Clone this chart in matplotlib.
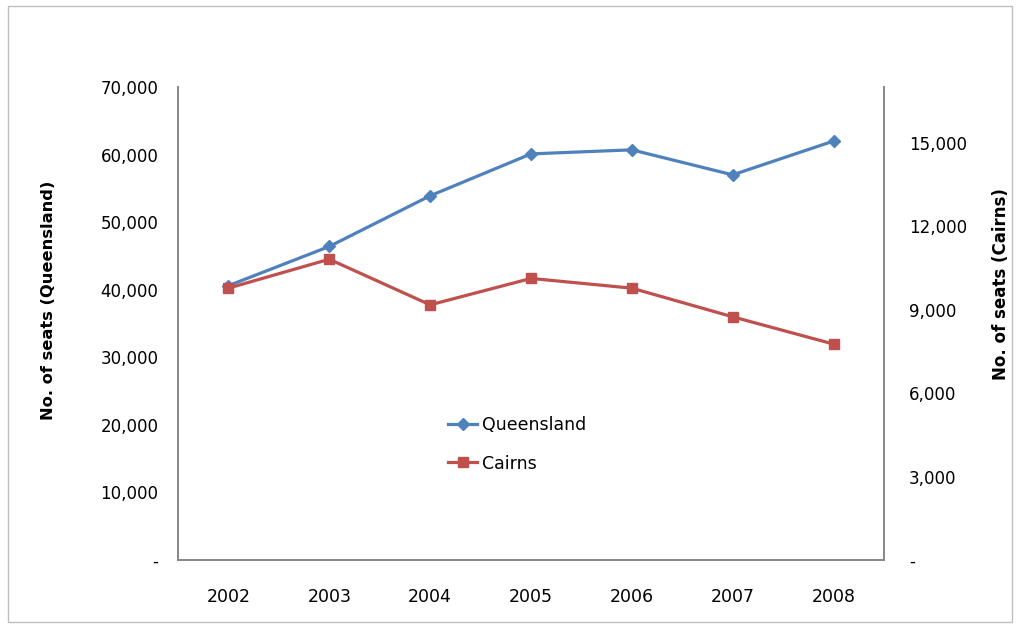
import matplotlib.pyplot as plt
from matplotlib.patches import Rectangle
from matplotlib.ticker import FuncFormatter

# Seats per year
years = ['2002', '2003', '2004', '2005', '2006', '2007', '2008']
queensland = [40600, 46400, 53900, 60100, 60700, 57000, 62000]
cairns = [9770, 10810, 9170, 10120, 9770, 8740, 7760]

blue = '#4F81BD'
red = '#C0504D'
grey = '#868686'

plt.rcParams['font.family'] = 'DejaVu Sans'


def seats_fmt(v, pos):
    if v == 0:
        return '-'
    return f'{int(v):,}'


fig = plt.figure(figsize=(10.19, 6.26), dpi=100)
ax = fig.add_axes([178 / 1019, 1 - 560 / 626, 706 / 1019, 473 / 626])
ax2 = ax.twinx()

x = list(range(len(years)))
l1, = ax.plot(x, queensland, color=blue, lw=2.3, marker='D', ms=6.5,
              label='Queensland', zorder=3)
l2, = ax2.plot(x, cairns, color=red, lw=2.3, marker='s', ms=7.5,
               label='Cairns', zorder=3)

ax.set_xlim(-0.5, 6.5)
ax.set_ylim(0, 70000)
ax2.set_ylim(0, 17000)
ax.set_yticks(range(0, 70001, 10000))
ax2.set_yticks(range(0, 15001, 3000))
ax.yaxis.set_major_formatter(FuncFormatter(seats_fmt))
ax2.yaxis.set_major_formatter(FuncFormatter(seats_fmt))
ax.set_xticks(x)
ax.set_xticklabels(years)

for a in (ax, ax2):
    a.spines['top'].set_visible(False)
    for s in ('left', 'right', 'bottom'):
        a.spines[s].set_color(grey)
        a.spines[s].set_linewidth(1.2)
    a.tick_params(length=0, labelsize=12, colors='black')
ax.tick_params(axis='y', pad=14)
ax2.tick_params(axis='y', pad=18)
ax.tick_params(axis='x', pad=20, labelsize=12.5)

ax.set_ylabel('No. of seats (Queensland)', fontsize=11.7, fontweight='bold',
              labelpad=32)
ax.yaxis.label.set_y(0.548)
ax2.set_ylabel('No. of seats (Cairns)', fontsize=12, fontweight='bold',
               labelpad=18)
ax2.yaxis.label.set_y(0.583)

ax.legend([l1, l2], ['Queensland', 'Cairns'], loc='center left',
          bbox_to_anchor=(0.36, 0.245), frameon=False, fontsize=12.5,
          handlelength=1.7, handletextpad=0.25, labelspacing=1.2)

# light frame around the whole chart
fig.patches.append(Rectangle((8 / 1019, 4 / 626), 1004 / 1019, 616 / 626,
                             transform=fig.transFigure, fill=False,
                             edgecolor='#BFBFBF', lw=1))

fig.savefig('out.png', dpi=100)
